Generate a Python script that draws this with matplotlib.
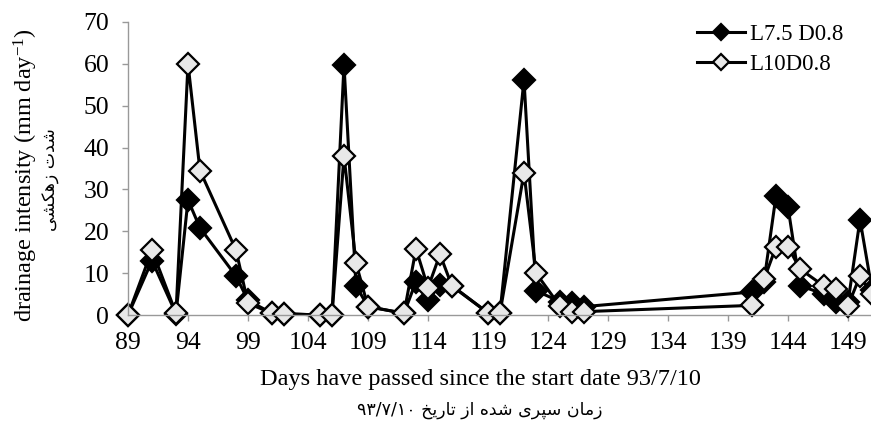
import numpy as np
import matplotlib
matplotlib.use("Agg")
import matplotlib.pyplot as plt

plt.rcParams['font.family'] = ['Liberation Serif', 'DejaVu Sans']
plt.rcParams['mathtext.fontset'] = 'custom'
plt.rcParams['mathtext.rm'] = 'Liberation Serif'
plt.rcParams['mathtext.default'] = 'rm'

# dias desde 93/7/10
days = [89, 91, 93, 94, 95, 98, 99, 101, 102, 105, 106, 107, 108, 109,
        112, 113, 114, 115, 116, 119, 120, 122, 123, 125, 126, 127,
        141, 142, 143, 144, 145, 147, 148, 149, 150, 151]
l75 = [0, 13, 0.3, 27.5, 20.8, 9.3, 3.5, 0.4, 0.3, 0, 0, 59.8, 7, 2,
       0.4, 8, 3.6, 7.2, 7, 0.5, 0.5, 56.2, 5.8, 3.2, 2.8, 2.0,
       5.5, 8, 28.5, 25.8, 7, 5, 3, 3, 22.8, 6]
l10 = [0, 15.5, 0.4, 60, 34.5, 15.5, 2.8, 0.4, 0.3, 0, 0, 38, 12.4, 2,
       0.4, 15.8, 6.5, 14.5, 6.9, 0.5, 0.5, 34, 10, 2.1, 0.8, 0.8,
       2.3, 8.5, 16.3, 16.3, 11, 6.9, 6.1, 2.2, 9.3, 5]
xticks = list(range(89, 150, 5))
yticks = list(range(0, 71, 10))
labels = ["L7.5 D0.8", "L10D0.8"]

# formas de presentacion arabes (matplotlib no hace el shaping)
FORMS = {
    'ا': ('\uFE8D', '\uFE8E', None, None),
    'ت': ('\uFE95', '\uFE96', '\uFE97', '\uFE98'),
    'خ': ('\uFEA5', '\uFEA6', '\uFEA7', '\uFEA8'),
    'د': ('\uFEA9', '\uFEAA', None, None),
    'ر': ('\uFEAD', '\uFEAE', None, None),
    'ز': ('\uFEAF', '\uFEB0', None, None),
    'س': ('\uFEB1', '\uFEB2', '\uFEB3', '\uFEB4'),
    'ش': ('\uFEB5', '\uFEB6', '\uFEB7', '\uFEB8'),
    'م': ('\uFEE1', '\uFEE2', '\uFEE3', '\uFEE4'),
    'ن': ('\uFEE5', '\uFEE6', '\uFEE7', '\uFEE8'),
    'ه': ('\uFEE9', '\uFEEA', '\uFEEB', '\uFEEC'),
    'پ': ('\uFB56', '\uFB57', '\uFB58', '\uFB59'),
    'ک': ('\uFB8E', '\uFB8F', '\uFB90', '\uFB91'),
    'ی': ('\uFBFC', '\uFBFD', '\uFBFE', '\uFBFF'),
}


def rtl(text):
    out = []
    for i, c in enumerate(text):
        if c not in FORMS:
            out.append(c)
            continue
        prev = text[i-1] if i > 0 else ''
        nxt = text[i+1] if i+1 < len(text) else ''
        lp = prev in FORMS and FORMS[prev][2] is not None
        ln = FORMS[c][2] is not None and nxt in FORMS
        f = FORMS[c]
        if lp and ln:
            out.append(f[3])
        elif lp:
            out.append(f[1])
        elif ln:
            out.append(f[2])
        else:
            out.append(f[0])
    return ''.join(out)[::-1]


fig = plt.figure(figsize=(8.71, 4.25), dpi=100)
ax = fig.add_axes([128/871, 110/425, 744/871, 293/425])

ax.plot(days, l75, '-', color='black', lw=2.2, marker='D', ms=11,
        mfc='black', mec='black', mew=1.6, label=labels[0], clip_on=False)
ax.plot(days, l10, '-', color='black', lw=2.2, marker='D', ms=11,
        mfc='#e8e8e8', mec='black', mew=1.6, label=labels[1], clip_on=False)

ax.set_xlim(89, 151)
ax.set_ylim(0, 70)
ax.set_xticks(xticks)
ax.set_yticks(yticks)
for s in ['top', 'right']:
    ax.spines[s].set_visible(False)
for s in ['left', 'bottom']:
    ax.spines[s].set_color('#999999')
    ax.spines[s].set_linewidth(1)
ax.tick_params(axis='both', colors='#999999', labelcolor='black',
               labelsize=18.5, length=4.5, width=1)
ax.tick_params(axis='y', pad=9)
ax.tick_params(axis='x', pad=8)

fig.text(480/871, 1-379/425, "Days have passed since the start date 93/7/10",
         ha='center', va='center', fontsize=17.5)
fig.text(480/871, 1-410/425, '۹۳/۷/۱۰ ' + rtl('زمان سپری شده از تاریخ'),
         ha='center', va='center', fontsize=12.5, family='DejaVu Sans')
fig.text(26/871, 1-175/425, r'drainage intensity (mm day$^{-1}$)',
         rotation=90, ha='center', va='center', fontsize=17.5)
fig.text(51/871, 1-180/425, rtl('شدت زهکشی'),
         rotation=90, ha='center', va='center', fontsize=12.5, family='DejaVu Sans')

ax.legend(loc='upper left', bbox_to_anchor=(697/871, 1-24/425),
          bbox_transform=fig.transFigure, frameon=False, fontsize=16.5,
          borderpad=0, borderaxespad=0, handlelength=2.1, handletextpad=0.2,
          labelspacing=0.4, markerscale=0.75)

plt.savefig("out.png", dpi=100)
